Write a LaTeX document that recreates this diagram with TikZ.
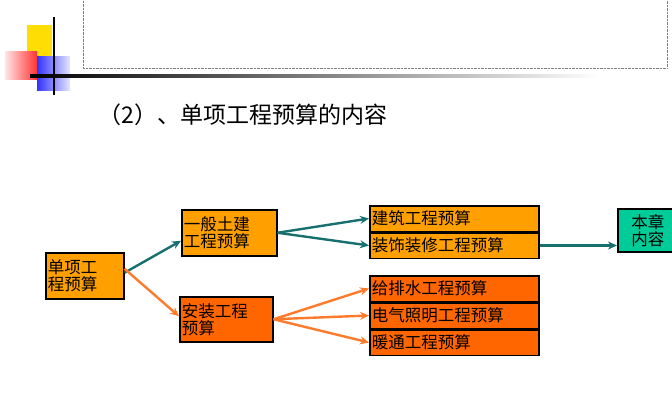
\documentclass[tikz,border=0pt]{standalone}
\usepackage{fontspec}
\setmainfont{Noto Sans CJK SC}
\usetikzlibrary{positioning,arrows.meta,shadings}
\definecolor{lorange}{HTML}{FFA000}
\definecolor{dorange}{HTML}{FF6600}
\definecolor{tealarr}{HTML}{17706E}
\definecolor{orarr}{HTML}{FF7A2A}
\definecolor{boxgreen}{HTML}{00CC99}
\tikzset{
  budget/.style={draw,line width=1.5pt,rectangle,inner sep=1pt,align=left,anchor=north west,font=\fontsize{16.5}{17}\selectfont},
  item/.style={budget,minimum width=169pt,minimum height=25.5pt,text width=165pt},
  tarrow/.style={-{Stealth[length=9pt,width=8pt]},line width=2.4pt,tealarr},
  oarrow/.style={-{Stealth[length=9pt,width=8pt]},line width=2.4pt,orarr}
}
\begin{document}
\begin{tikzpicture}[x=1pt,y=-1pt]
  \useasboundingbox (0,0) rectangle (672,412);
  % decoration at the top
  \draw[gray,densely dotted] (83,-2) rectangle (667,68);
  \fill[yellow!80!orange] (27,25) rectangle (52,57);
  \shade[left color=red!10,right color=red!80] (5,52) rectangle (37,80);
  \shade[left color=blue!80,right color=blue!10] (37,57) rectangle (70,90);
  \draw[line width=1.5pt] (54,17) -- (54,95);
  \shade[left color=black,right color=white] (30,74.5) rectangle (600,77.5);
  \node[anchor=west,font=\fontsize{23}{23}\selectfont] (title) at (95,115) {（2）、单项工程预算的内容};
  % boxes
  \node[budget,fill=lorange,minimum width=78pt,minimum height=46pt,text width=74pt] (unit) at (45,252) {单项工\\程预算};
  \node[budget,fill=lorange,minimum width=95pt,minimum height=46pt,text width=91pt] (civil) at (181,209) {一般土建\\工程预算};
  \node[budget,fill=dorange,minimum width=93pt,minimum height=45pt,text width=89pt] (install) at (179,296) {安装工程\\预算};
  \node[item,fill=lorange] (build) at (369,205) {建筑工程预算};
  \node[item,fill=lorange,below=0pt of build.south west,anchor=north west] (deco) {装饰装修工程预算};
  \node[item,fill=dorange] (water) at (369,275) {给排水工程预算};
  \node[item,fill=dorange,below=0pt of water.south west,anchor=north west] (light) {电气照明工程预算};
  \node[item,fill=dorange,below=0pt of light.south west,anchor=north west] (heat) {暖通工程预算};
  \node[budget,fill=boxgreen,minimum width=60pt,minimum height=43pt,text width=56pt,align=center] (chapter) at (617,208) {本章\\内容};
  % connectors
  \draw[tarrow] ([yshift=3pt]unit.east) -- ([yshift=-8pt]civil.west);
  \draw[oarrow] ([yshift=7pt]unit.east) -- ([yshift=3pt]install.west);
  \draw[tarrow] (civil.east) -- (build.west);
  \draw[tarrow] (civil.east) -- (deco.west);
  \draw[tarrow] (deco.east) -- (deco.east -| chapter.west);
  \draw[oarrow] (install.east) -- (water.west);
  \draw[oarrow] (install.east) -- (light.west);
  \draw[oarrow] (install.east) -- (heat.west);
\end{tikzpicture}
\end{document}
